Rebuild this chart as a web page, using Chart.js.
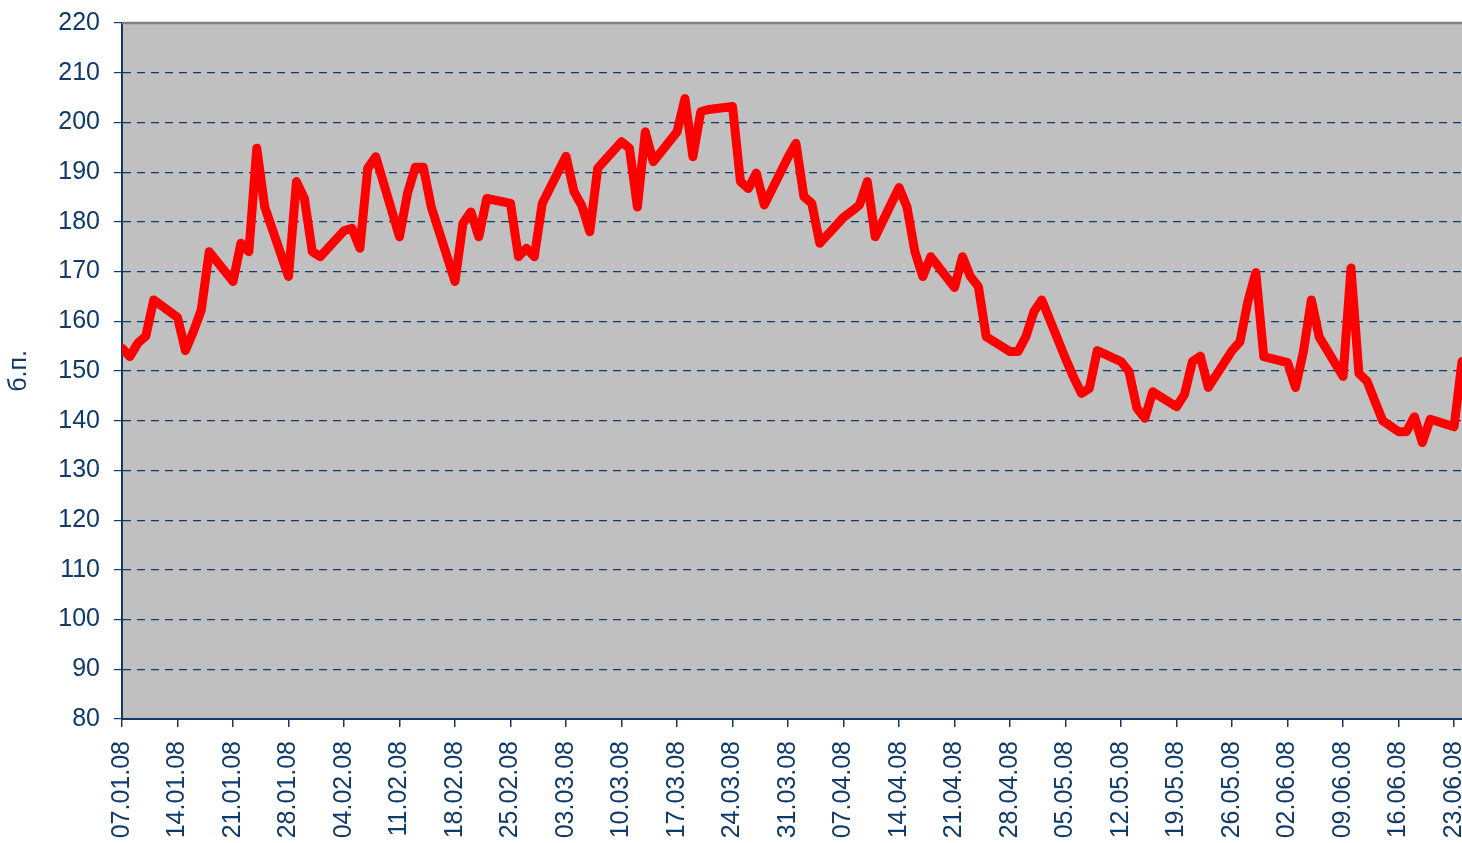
<!DOCTYPE html>
<html>
<head>
<meta charset="utf-8">
<script src="https://cdn.jsdelivr.net/npm/chart.js@4.4.1/dist/chart.umd.min.js"></script>
<style>
    html, body { margin: 0; padding: 0; background: #ffffff; }
</style>
</head>
<body>
<canvas id="spreadChart" width="1462" height="843"></canvas>
<script>
// trading days (dd.mm.yy)
const dates = [
    '07.01.08', '08.01.08', '09.01.08', '10.01.08', '11.01.08',
    '14.01.08', '15.01.08', '16.01.08', '17.01.08', '18.01.08',
    '21.01.08', '22.01.08', '23.01.08', '24.01.08', '25.01.08',
    '28.01.08', '29.01.08', '30.01.08', '31.01.08', '01.02.08',
    '04.02.08', '05.02.08', '06.02.08', '07.02.08', '08.02.08',
    '11.02.08', '12.02.08', '13.02.08', '14.02.08', '15.02.08',
    '18.02.08', '19.02.08', '20.02.08', '21.02.08', '22.02.08',
    '25.02.08', '26.02.08', '27.02.08', '28.02.08', '29.02.08',
    '03.03.08', '04.03.08', '05.03.08', '06.03.08', '07.03.08',
    '10.03.08', '11.03.08', '12.03.08', '13.03.08', '14.03.08',
    '17.03.08', '18.03.08', '19.03.08', '20.03.08', '21.03.08',
    '24.03.08', '25.03.08', '26.03.08', '27.03.08', '28.03.08',
    '31.03.08', '01.04.08', '02.04.08', '03.04.08', '04.04.08',
    '07.04.08', '08.04.08', '09.04.08', '10.04.08', '11.04.08',
    '14.04.08', '15.04.08', '16.04.08', '17.04.08', '18.04.08',
    '21.04.08', '22.04.08', '23.04.08', '24.04.08', '25.04.08',
    '28.04.08', '29.04.08', '30.04.08', '01.05.08', '02.05.08',
    '05.05.08', '06.05.08', '07.05.08', '08.05.08', '09.05.08',
    '12.05.08', '13.05.08', '14.05.08', '15.05.08', '16.05.08',
    '19.05.08', '20.05.08', '21.05.08', '22.05.08', '23.05.08',
    '26.05.08', '27.05.08', '28.05.08', '29.05.08', '30.05.08',
    '02.06.08', '03.06.08', '04.06.08', '05.06.08', '06.06.08',
    '09.06.08', '10.06.08', '11.06.08', '12.06.08', '14.06.08',
    '16.06.08', '17.06.08', '18.06.08', '19.06.08', '20.06.08',
    '23.06.08', '24.06.08'
];

// spread, basis points
const spread = [
    154.6, 152.9, 155.6, 157.0, 164.3,
    160.8, 154.1, 157.9, 162.3, 174.0,
    168.0, 175.7, 174.0, 194.8, 183.0,
    169.0, 188.1, 184.7, 174.0, 173.0,
    178.2, 178.7, 174.7, 190.8, 193.1,
    177.0, 185.7, 191.0, 191.0, 183.0,
    168.0, 179.7, 182.0, 177.0, 184.7,
    183.7, 173.0, 174.7, 173.0, 183.7,
    193.2, 186.1, 183.2, 178.0, 190.8,
    196.1, 194.8, 183.0, 198.1, 192.1,
    198.1, 204.8, 193.1, 202.2, 202.6,
    203.2, 188.1, 186.7, 189.8, 183.4,
    193.0, 195.8, 185.1, 183.7, 175.7,
    180.9, 182.1, 183.4, 188.1, 177.0,
    186.9, 183.0, 174.0, 169.0, 173.0,
    166.8, 173.0, 169.0, 167.0, 156.9,
    153.9, 153.9, 156.9, 161.9, 164.3,
    152.5, 148.8, 145.5, 146.5, 154.1,
    151.9, 149.9, 142.5, 140.5, 145.8,
    142.8, 145.3, 151.9, 153.0, 146.7,
    154.1, 155.9, 164.0, 169.8, 152.9,
    151.7, 146.7, 153.9, 164.3, 156.8,
    148.9, 170.7, 149.5, 148.0, 140.0,
    137.8, 137.8, 140.8, 135.6, 140.3,
    138.8, 151.9
];

const tickLabels = [
    '07.01.08', '14.01.08', '21.01.08', '28.01.08', '04.02.08', '11.02.08',
    '18.02.08', '25.02.08', '03.03.08', '10.03.08', '17.03.08', '24.03.08',
    '31.03.08', '07.04.08', '14.04.08', '21.04.08', '28.04.08', '05.05.08',
    '12.05.08', '19.05.08', '26.05.08', '02.06.08', '09.06.08', '16.06.08',
    '23.06.08'
];

const yMin = 80;
const yMax = 220;
const yStep = 10;

const navy = '#0f3a6b';
const fontFamily = '"Liberation Sans", Arial, sans-serif';

// days since the first date
function dayIndex(label) {
    const [d, m, y] = label.split('.').map(Number);
    return (Date.UTC(2000 + y, m - 1, d) - Date.UTC(2008, 0, 7)) / 86400000;
}

const tickByDay = {};
tickLabels.forEach(t => { tickByDay[dayIndex(t)] = t; });

const points = dates.map((d, i) => ({ x: dayIndex(d), y: spread[i] }));

const plotBackground = {
    id: 'plotBackground',
    beforeDraw(chart) {
        const { ctx, chartArea: a } = chart;
        ctx.save();
        ctx.fillStyle = '#c0c0c0';
        ctx.fillRect(a.left, a.top, a.right - a.left, a.bottom - a.top);
        ctx.restore();
    },
    beforeDatasetsDraw(chart) {
        // grey frame line along the top of the plot
        const { ctx, chartArea: a } = chart;
        ctx.save();
        ctx.strokeStyle = '#808080';
        ctx.lineWidth = 2.5;
        ctx.beginPath();
        ctx.moveTo(a.left, a.top);
        ctx.lineTo(a.right, a.top);
        ctx.stroke();
        ctx.restore();
    }
};

const ctx = document.getElementById('spreadChart').getContext('2d');

new Chart(ctx, {
    type: 'line',
    data: {
        datasets: [{
            label: 'спред',
            data: points,
            borderColor: '#ff0000',
            borderWidth: 9,
            borderJoinStyle: 'round',
            borderCapStyle: 'round',
            pointRadius: 0,
            tension: 0,
            fill: false
        }]
    },
    options: {
        responsive: false,
        animation: false,
        devicePixelRatio: 1,
        layout: { padding: { top: 23, right: 0, bottom: 0, left: 0 } },
        plugins: {
            legend: { display: false },
            tooltip: { enabled: false }
        },
        scales: {
            x: {
                type: 'linear',
                min: 0,
                max: dayIndex(dates[dates.length - 1]),
                afterBuildTicks(scale) {
                    scale.ticks = tickLabels.map(t => ({ value: dayIndex(t) }));
                },
                afterFit(scale) {
                    scale.height = 124;
                    scale.paddingLeft = 0;
                    scale.paddingRight = 0;
                },
                ticks: {
                    autoSkip: false,
                    minRotation: 90,
                    maxRotation: 90,
                    padding: 14,
                    color: navy,
                    font: { family: fontFamily, size: 25 },
                    callback: (v) => tickByDay[v] || ''
                },
                grid: {
                    drawOnChartArea: false,
                    drawTicks: true,
                    tickLength: 8,
                    color: navy,
                    lineWidth: 1.5
                },
                border: { color: navy, width: 2 }
            },
            y: {
                min: yMin,
                max: yMax,
                afterFit(scale) {
                    scale.width = 122;
                    scale.paddingTop = 0;
                    scale.paddingBottom = 0;
                },
                ticks: {
                    stepSize: yStep,
                    padding: 14,
                    color: navy,
                    font: { family: fontFamily, size: 25 }
                },
                grid: {
                    color: navy,
                    lineWidth: 1.2,
                    tickLength: 8,
                    tickColor: navy
                },
                border: { color: navy, width: 2, dash: [8, 6] },
                title: {
                    display: true,
                    text: 'б.п.',
                    color: navy,
                    font: { family: fontFamily, size: 25 },
                    padding: { top: 4, bottom: 0 }
                }
            }
        }
    },
    plugins: [plotBackground]
});
</script>
</body>
</html>
